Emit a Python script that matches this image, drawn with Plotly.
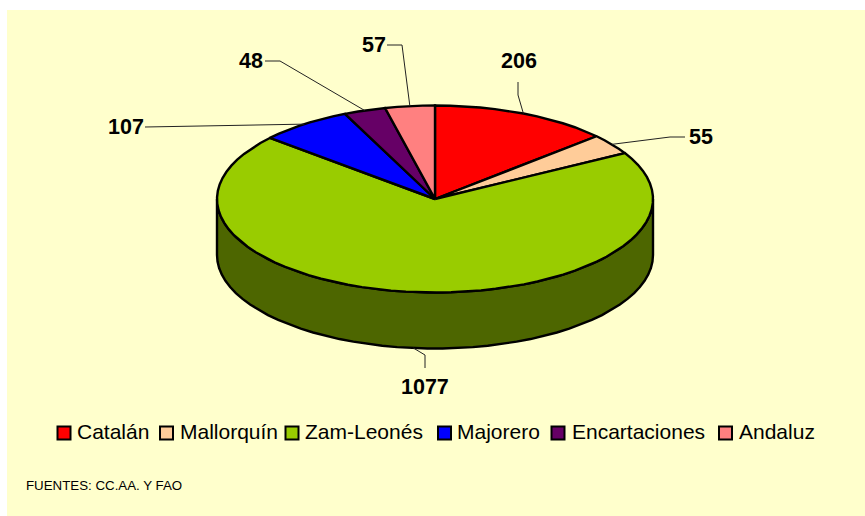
import numpy as np
import plotly.graph_objects as go

categories = ["Catalán", "Mallorquín", "Zam-Leonés", "Majorero", "Encartaciones", "Andaluz"]
values = [206, 55, 1077, 107, 48, 57]
top_colors = ["#FF0000", "#FFCC99", "#99CC00", "#0000FF", "#660066", "#FF8080"]
wall_colors = ["#800000", "#806650", "#4D6600", "#000080", "#330033", "#804040"]
source_text = "FUENTES: CC.AA. Y FAO"

# layout, in page pixels
W, H = 865, 516
CX, CY, RX, RY, DEPTH = 435, 199, 218, 93.5, 56
label_pos = [(519, 61), (701, 137), (425, 387), (125.5, 127), (251, 61), (373.5, 45)]
leader_mid = [[(518, 82), (518, 95)], [(685, 137), (670, 137)], [(425, 368), (425, 355)],
              [(145, 127)], [(265, 61), (280, 61)], [(387, 45), (402, 45)]]
legend_marker_x = [64, 166.5, 292, 444.5, 558, 725.5]
legend_text_x = [77, 180, 305, 457, 572, 739]
LEGEND_Y = 433
STEP = np.radians(4)
EDGE = 2.4

total = sum(values)
bounds = np.concatenate([[0], np.cumsum(values)]) / total * 2 * np.pi


def ell(t, dy=0.0):
    t = np.asarray(t)
    return CX + RX * np.sin(t), CY - RY * np.cos(t) + dy


def arc(a, b):
    n = max(2, int(np.ceil((b - a) / STEP)) + 1)
    return np.linspace(a, b, n)


fig = go.Figure()

# side wall: only the part of each slice facing the viewer
for i, c in enumerate(categories):
    a, b = max(bounds[i], np.pi / 2), min(bounds[i + 1], 3 * np.pi / 2)
    if b <= a:
        continue
    t = arc(a, b)
    x1, y1 = ell(t)
    x2, y2 = ell(t[::-1], DEPTH)
    fig.add_trace(go.Scatter(
        x=list(x1) + list(x2) + [x1[0]], y=list(y1) + list(y2) + [y1[0]],
        mode="lines", fill="toself", fillcolor=wall_colors[i],
        line=dict(color="#000000", width=EDGE), showlegend=False, hoverinfo="skip"))

# top face
for i, c in enumerate(categories):
    x, y = ell(arc(bounds[i], bounds[i + 1]))
    fig.add_trace(go.Scatter(
        x=[CX] + list(x) + [CX], y=[CY] + list(y) + [CY],
        mode="lines", fill="toself", fillcolor=top_colors[i],
        line=dict(color="#000000", width=EDGE), name=c, showlegend=False,
        hovertemplate=f"{c}: {values[i]}<extra></extra>"))

# leader lines and value labels
for i, v in enumerate(values):
    mid = (bounds[i] + bounds[i + 1]) / 2
    ex, ey = ell(mid, DEPTH if np.pi / 2 < mid < 3 * np.pi / 2 else 0)
    pts = leader_mid[i] + [(float(ex), float(ey))]
    fig.add_trace(go.Scatter(
        x=[p[0] for p in pts], y=[p[1] for p in pts], mode="lines",
        line=dict(color="#222222", width=1), showlegend=False, hoverinfo="skip"))
    fig.add_annotation(x=label_pos[i][0], y=label_pos[i][1], text=f"<b>{v}</b>", showarrow=False,
                       font=dict(family="Liberation Sans", size=21.5, color="#000000"))

# legend entries
for i, c in enumerate(categories):
    fig.add_trace(go.Scatter(
        x=[legend_marker_x[i]], y=[LEGEND_Y], mode="markers", name=c, showlegend=False,
        marker=dict(symbol="square", size=13, color=top_colors[i], line=dict(color="#000000", width=2)),
        hoverinfo="skip"))
    fig.add_annotation(x=legend_text_x[i], y=LEGEND_Y - 2, xanchor="left", xshift=-2, text=c, showarrow=False,
                       font=dict(family="Liberation Sans", size=21, color="#000000"))

fig.add_annotation(x=26, y=485, xanchor="left", xshift=-2, text=source_text, showarrow=False,
                   font=dict(family="Liberation Sans", size=13.3, color="#000000"))

fig.update_layout(
    width=W, height=H, margin=dict(l=0, r=0, t=0, b=0), showlegend=False,
    paper_bgcolor="#FFFFFF", plot_bgcolor="rgba(0,0,0,0)",
    xaxis=dict(range=[0, W], visible=False, fixedrange=True),
    yaxis=dict(range=[H, 0], visible=False, fixedrange=True),
    shapes=[dict(type="rect", xref="x", yref="y", x0=7, y0=10, x1=W, y1=H, layer="below",
                 fillcolor="#FFFFCC", line=dict(width=0))],
)
fig.write_html("out.html", config={"displayModeBar": False},
               post_script="document.body.style.margin='0';document.body.style.overflow='hidden';")
